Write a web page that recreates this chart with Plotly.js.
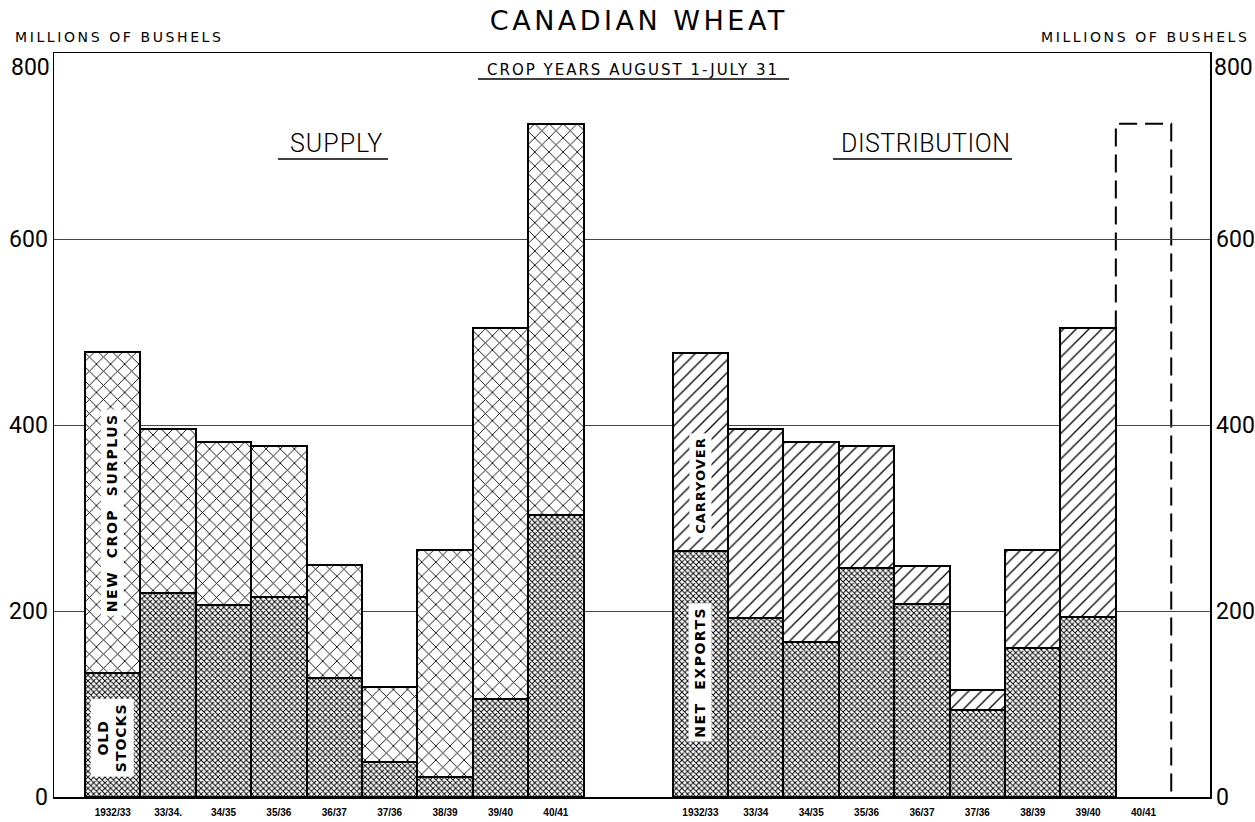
<!DOCTYPE html>
<html>
<head>
<meta charset="utf-8">
<script src="https://cdn.plot.ly/plotly-3.0.1.min.js"></script>
<style>html,body{margin:0;padding:0;background:#fff;}#chart{width:1255px;height:822px;}</style>
</head>
<body>
<div id="chart"></div>
<script>
// ---- data (millions of bushels) ----
const supplyYears = ["1932/33","33/34.","34/35","35/36","36/37","37/36","38/39","39/40","40/41"];
const distYears   = ["1932/33","33/34","34/35","35/36","36/37","37/36","38/39","39/40","40/41"];
const supplyOldStocks = [133, 219, 206, 215, 128, 38, 22, 105, 303];
const supplyNewCrop   = [345, 177, 176, 162, 121, 80, 244, 399, 421];
const distNetExports  = [264, 192, 167, 246, 207, 94, 160, 194, null];
const distCarryover   = [213, 204, 215, 131, 41, 21, 106, 310, null];
const yTicks = [0, 200, 400, 600, 800];
const yTickText = ["0", "200", "400", "600", ""];   // "800" is drawn just under the frame top

// ---- styles ----
const outline = {color: "#000", width: 2};
const denseFill = {shape: "x", size: 4, solidity: 0.42, fgcolor: "#000", bgcolor: "#fff"};
const crossFill = {shape: "x", size: 10, solidity: 0.17, fgcolor: "#000", bgcolor: "#fff"};
const slashFill = {shape: "/", size: 9, solidity: 0.14, fgcolor: "#000", bgcolor: "#fff"};

const traces = [
  {type: "bar", name: "Old stocks", x: supplyYears, y: supplyOldStocks, xaxis: "x", yaxis: "y",
   marker: {color: "#fff", pattern: denseFill, line: outline}, hoverinfo: "skip"},
  {type: "bar", name: "New crop surplus", x: supplyYears, y: supplyNewCrop, xaxis: "x", yaxis: "y",
   marker: {color: "#fff", pattern: crossFill, line: outline}, hoverinfo: "skip"},
  {type: "bar", name: "Net exports", x: distYears, y: distNetExports, xaxis: "x2", yaxis: "y",
   marker: {color: "#fff", pattern: denseFill, line: outline}, hoverinfo: "skip"},
  {type: "bar", name: "Carryover", x: distYears, y: distCarryover, xaxis: "x2", yaxis: "y",
   marker: {color: "#fff", pattern: slashFill, line: outline}, hoverinfo: "skip"},
  // invisible trace to carry the right-hand axis
  {type: "scatter", x: [distYears[0]], y: [0], xaxis: "x2", yaxis: "y2", mode: "markers",
   marker: {opacity: 0}, hoverinfo: "skip", showlegend: false}
];

// dashed open box for 40/41 distribution, height = 40/41 total supply
const lastIdx = distYears.length - 1;
const pendingTotal = supplyOldStocks[lastIdx] + supplyNewCrop[lastIdx];
const bx0 = lastIdx - 0.5, bx1 = lastIdx + 0.5;
const pendingPath = `M${bx0},0.6 L${bx0},${pendingTotal} L${bx1},${pendingTotal} L${bx1},0.6`;

const ls = (t, px) => `<span style="letter-spacing:${px}px">${t}</span>`;

const tickFont = {family: "Liberation Sans, Arial, sans-serif", size: 10, color: "#000", weight: 700};
const yFont = {family: "Roboto, sans-serif", size: 23, color: "#000"};
const labelFont = {family: "DejaVu Sans, sans-serif", size: 14, color: "#000", weight: 700};
const smallCaps = {family: "DejaVu Sans, sans-serif", size: 14, color: "#000"};

const layout = {
  width: 1255, height: 822,
  paper_bgcolor: "#fff", plot_bgcolor: "#fff",
  margin: {l: 54, r: 45, t: 53, b: 25},
  showlegend: false,
  barmode: "stack", bargap: 0,
  title: {text: ls("CANADIAN WHEAT", 3.5), font: {family: "DejaVu Sans, sans-serif", size: 27, color: "#000"},
          x: 0.509, xref: "container", y: 0.975, yref: "container", yanchor: "middle", xanchor: "center"},
  xaxis: {type: "category", range: [-1.06, 19.81], showgrid: false, zeroline: false,
          showline: true, linecolor: "#000", linewidth: 1.5, mirror: true, ticks: "",
          ticklabelstandoff: 5, tickfont: tickFont, fixedrange: true},
  xaxis2: {type: "category", overlaying: "x", anchor: "y", side: "bottom", range: [-11.67, 9.2],
           showgrid: false, zeroline: false, showline: true, linecolor: "#000", linewidth: 1.5, ticks: "",
           ticklabelstandoff: 5, tickfont: tickFont, fixedrange: true},
  yaxis: {range: [0, 800], tickvals: yTicks, ticktext: yTickText, showgrid: true, gridcolor: "#444", gridwidth: 1,
          zeroline: false, showline: true, linecolor: "#000", linewidth: 1.5, ticks: "",
          tickfont: yFont, fixedrange: true},
  yaxis2: {range: [0, 800], tickvals: yTicks, ticktext: yTickText, overlaying: "y", side: "right", anchor: "x",
           showgrid: false, zeroline: false, showline: true, linecolor: "#000", linewidth: 1.5,
           ticks: "", tickfont: yFont, fixedrange: true},
  shapes: [
    {type: "path", xref: "x2", yref: "y", path: pendingPath,
     line: {color: "#000", width: 2, dash: "18px,8px"}, fillcolor: "#fff", layer: "below"},
    {type: "line", xref: "paper", yref: "paper", x0: 0.3668, x1: 0.6358, y0: 0.965, y1: 0.965,
     line: {color: "#000", width: 1.5}},
    {type: "line", xref: "paper", yref: "paper", x0: 0.1938, x1: 0.2889, y0: 0.8575, y1: 0.8575,
     line: {color: "#000", width: 1.5}},
    {type: "line", xref: "paper", yref: "paper", x0: 0.6739, x1: 0.8287, y0: 0.8575, y1: 0.8575,
     line: {color: "#000", width: 1.5}}
  ],
  annotations: [
    {text: ls("MILLIONS OF BUSHELS", 2.6), xref: "paper", yref: "paper", x: -0.0355, y: 1.021, xanchor: "left", yanchor: "middle",
     showarrow: false, font: smallCaps},
    {text: ls("MILLIONS OF BUSHELS", 2.6), xref: "paper", yref: "paper", x: 1.036, y: 1.021, xanchor: "right", yanchor: "middle",
     showarrow: false, font: smallCaps},
    {text: ls("CROP YEARS AUGUST 1-JULY 31", 2), xref: "paper", yref: "paper", x: 0.5009, y: 0.977, xanchor: "center", yanchor: "middle",
     showarrow: false, font: {family: "DejaVu Sans, sans-serif", size: 15, color: "#000"}},
    {text: ls("SUPPLY", 1), xref: "paper", yref: "paper", x: 0.244, y: 0.879, xanchor: "center", yanchor: "middle",
     showarrow: false, font: {family: "Roboto, sans-serif", size: 25, color: "#000", weight: 300}},
    {text: ls("DISTRIBUTION", 0.5), xref: "paper", yref: "paper", x: 0.7535, y: 0.879, xanchor: "center", yanchor: "middle",
     showarrow: false, font: {family: "Roboto, sans-serif", size: 25, color: "#000", weight: 300}},
    {text: ls("NEW  CROP  SURPLUS", 1.5), xref: "x", yref: "y", x: supplyYears[0], y: 306, textangle: -90,
     showarrow: false, bgcolor: "#fff", borderpad: 3, font: labelFont},
    {text: ls("OLD", 1) + "<br>" + ls("STOCKS", 1), xref: "x", yref: "y", x: supplyYears[0], y: 64, textangle: -90,
     showarrow: false, bgcolor: "#fff", borderpad: 4, font: labelFont},
    {text: ls("CARRYOVER", 1), xref: "x2", yref: "y", x: distYears[0], y: 335, textangle: -90,
     showarrow: false, bgcolor: "#fff", borderpad: 3, font: {family: "DejaVu Sans, sans-serif", size: 13, color: "#000", weight: 700}},
    {text: ls("NET  EXPORTS", 1.5), xref: "x2", yref: "y", x: distYears[0], y: 134, textangle: -90,
     showarrow: false, bgcolor: "#fff", borderpad: 3, font: labelFont},
    {text: "800", xref: "paper", yref: "y", x: 0, y: yTicks[4], xanchor: "right", yanchor: "top", xshift: -3,
     showarrow: false, borderpad: 0, font: yFont},
    {text: "800", xref: "paper", yref: "y", x: 1, y: yTicks[4], xanchor: "left", yanchor: "top", xshift: 3,
     showarrow: false, borderpad: 0, font: yFont}
  ]
};

Plotly.newPlot("chart", traces, layout, {staticPlot: true, displayModeBar: false});
</script>
</body>
</html>
